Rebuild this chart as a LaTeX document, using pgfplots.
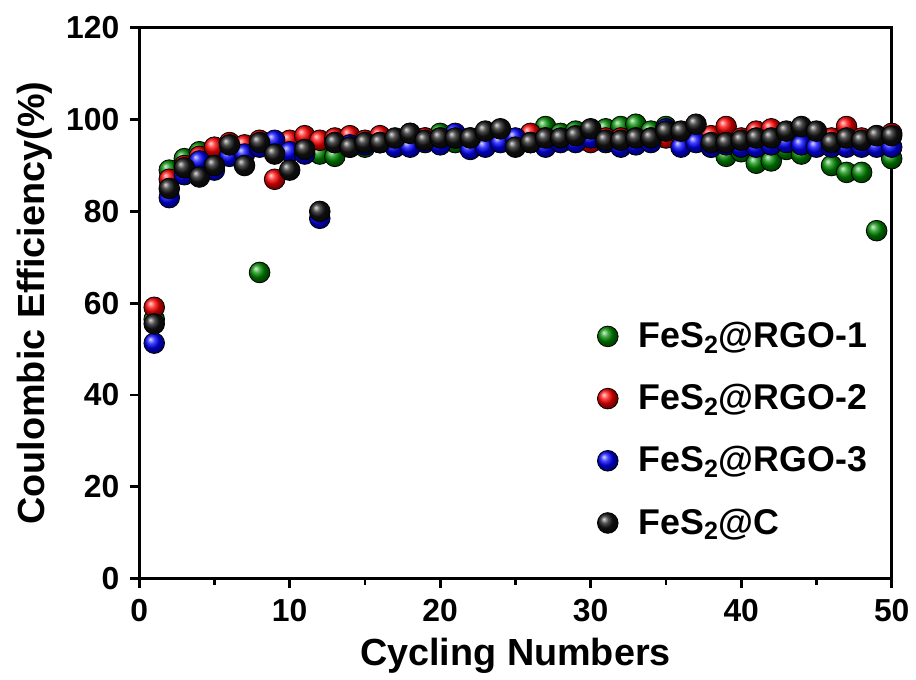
\documentclass[border=0pt]{standalone}
\usepackage{pgfplots}
\pgfplotsset{compat=1.18}
\usepackage{fontspec}
\setmainfont{Liberation Sans}
\definecolor{cg}{RGB}{0,140,0}
\definecolor{cr}{RGB}{255,0,0}
\definecolor{cb}{RGB}{0,0,255}
\definecolor{ck}{RGB}{20,20,20}
\begin{document}
\begin{tikzpicture}
\begin{axis}[
  scale only axis,
  width=378.5pt, height=277pt,
  xmin=0, xmax=50, ymin=0, ymax=120,
  xtick={0,10,...,50}, ytick={0,20,...,120},
  minor xtick={5,15,...,45},
  tick align=outside, tick pos=left,
  major tick length=4.5pt, minor tick length=3pt,
  axis line style={line width=1.6pt},
  every tick/.style={line width=1.4pt, black},
  /pgf/number format/assume math mode=true,
  ticklabel style={font=\bfseries\fontsize{16}{17}\selectfont},
  yticklabel style={xshift=-2pt},
  xticklabel style={yshift=-2.5pt},
  xlabel={Cycling Numbers},
  ylabel={Coulombic Efficiency(\%)},
  label style={font=\bfseries\fontsize{19}{21}\selectfont},
  xlabel style={yshift=-1pt},
  ylabel style={yshift=0pt},
  only marks,
  mark size=5.2pt,
  legend style={draw=none, fill=none, at={(0.6,0.06)}, anchor=south west,
    font=\bfseries\fontsize{18}{20}\selectfont, row sep=13pt,
    legend cell align=left, nodes={inner xsep=10pt}},
]
\addplot[mark=ball, ball color=cg] coordinates {
(1,56.5)(2,89)(3,91.5)(4,93)(5,93.5)(6,94)(7,94)(8,66.7)(9,93)(10,93)
(11,93)(12,92.5)(13,92)(14,94)(15,94)(16,95)(17,95)(18,96)(19,96)(20,97)
(21,95)(22,96)(23,95)(24,97)(25,94.5)(26,96)(27,98.5)(28,97)(29,97.5)(30,97.5)
(31,98)(32,98.5)(33,99)(34,97.5)(35,98.5)(36,96)(37,96)(38,94)(39,92)(40,93)
(41,90.5)(42,91)(43,93.5)(44,92.5)(45,95)(46,90)(47,88.5)(48,88.5)(49,75.8)(50,91.5)};
\addlegendentry{FeS\textsubscript{2}@RGO-1}
\addplot[mark=ball, ball color=cr] coordinates {
(1,59.1)(2,87)(3,90)(4,92)(5,94)(6,95)(7,94.5)(8,95.5)(9,87)(10,95.5)
(11,96.5)(12,95.5)(13,96)(14,96.5)(15,95.5)(16,96.5)(17,95)(18,97)(19,96)(20,96)
(21,96)(22,95)(23,96)(24,96)(25,95)(26,97)(27,96)(28,95.5)(29,96)(30,95)
(31,96)(32,96)(33,96)(34,96)(35,96)(36,96.5)(37,97)(38,96.5)(39,98.5)(40,96)
(41,97.5)(42,98)(43,97)(44,98)(45,97)(46,96)(47,98.5)(48,96)(49,96.5)(50,97)};
\addlegendentry{FeS\textsubscript{2}@RGO-2}
\addplot[mark=ball, ball color=cb] coordinates {
(1,51.3)(2,83)(3,88)(4,91)(5,89)(6,92)(7,92.5)(8,94)(9,95.5)(10,93)
(11,92.5)(12,78.5)(13,95)(14,94.5)(15,94.5)(16,95)(17,94)(18,94)(19,95)(20,94.5)
(21,97)(22,93.5)(23,94)(24,95)(25,96)(26,95)(27,94)(28,95)(29,95)(30,96)
(31,95)(32,94)(33,94.5)(34,95)(35,98)(36,94)(37,95)(38,94)(39,94.5)(40,94)
(41,94)(42,94.5)(43,95)(44,94.5)(45,94)(46,94)(47,94)(48,94)(49,94)(50,94)};
\addlegendentry{FeS\textsubscript{2}@RGO-3}
\addplot[mark=ball, ball color=ck] coordinates {
(1,55.5)(2,85)(3,89.5)(4,87.5)(5,90)(6,94.5)(7,90)(8,95)(9,92.5)(10,89)
(11,93.5)(12,80)(13,95)(14,94)(15,95)(16,95)(17,96)(18,97)(19,95.5)(20,96)
(21,96)(22,96)(23,97.5)(24,98)(25,94)(26,95)(27,96)(28,96)(29,96.5)(30,98)
(31,95.5)(32,95.5)(33,96)(34,96)(35,97.5)(36,97.5)(37,99)(38,95)(39,95)(40,95.5)
(41,96)(42,96)(43,97.5)(44,98.5)(45,97.5)(46,95)(47,96)(48,95.5)(49,96.5)(50,96.5)};
\addlegendentry{FeS\textsubscript{2}@C}
\end{axis}
\path ([yshift=14pt]current axis.north) ([xshift=9.5pt]current axis.east) ([xshift=-70pt]current axis.west);
\end{tikzpicture}
\end{document}
